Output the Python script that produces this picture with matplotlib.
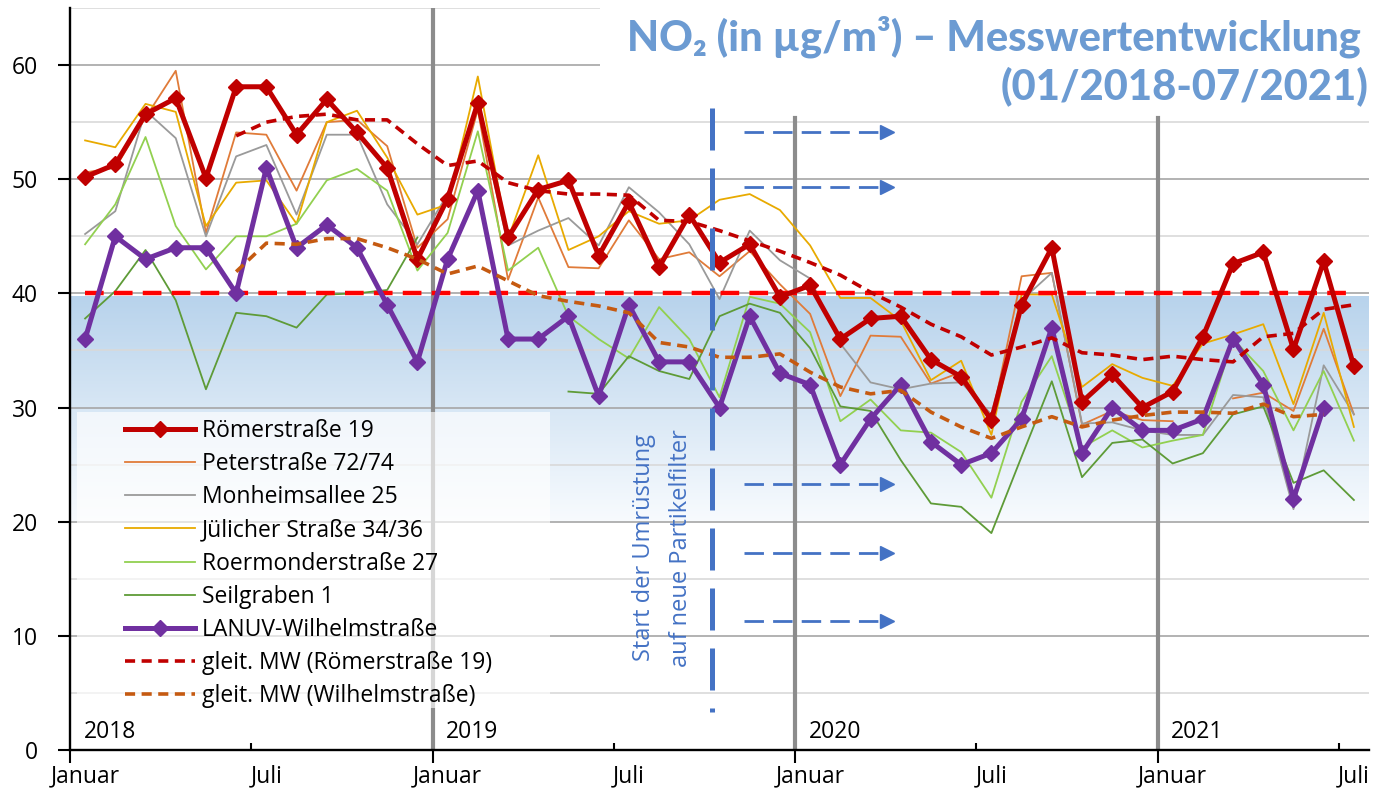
import numpy as np
import matplotlib
matplotlib.use("Agg")
import matplotlib.pyplot as plt
from matplotlib.patches import Rectangle

plt.rcParams['font.family'] = ['Open Sans', 'DejaVu Sans']

nan = np.nan
months = list(range(43))  # Jan 2018 .. Jul 2021

roemer = [50.2, 51.3, 55.7, 57.1, 50.1, 58.1, 58.1, 53.9, 57.0, 54.1, 51.0, 43.0,
          48.3, 56.7, 44.9, 49.1, 49.9, 43.3, 48.0, 42.3, 46.9, 42.7, 44.3, 39.7,
          40.7, 36.0, 37.8, 38.0, 34.2, 32.7, 28.9, 39.0, 44.0, 30.5, 32.9, 30.0,
          31.4, 36.2, 42.6, 43.6, 35.1, 42.8, 33.6]
peter = [50.6, 51.0, 55.4, 59.5, 45.3, 54.1, 53.9, 49.0, 55.0, 55.2, 52.9, 44.0,
         46.5, 56.1, 41.2, 48.4, 42.3, 42.2, 46.4, 43.0, 43.6, 41.5, 43.7, 40.8,
         38.2, 31.0, 36.3, 36.2, 32.1, 33.1, 28.9, 41.5, 41.8, 28.5, 29.7, 28.9,
         28.8, nan, 30.8, 31.3, 29.7, 36.9, 29.4]
monheim = [45.2, 47.2, 56.0, 53.6, 45.0, 52.0, 53.0, 46.9, 53.9, 53.9, 47.8, 44.3,
           48.7, 56.3, 44.2, 45.5, 46.6, 44.2, 49.3, 47.1, 44.3, 39.5, 45.5, 42.9,
           41.3, 35.6, 32.2, 31.6, 32.1, 32.2, 29.4, 39.4, 41.8, 28.6, 28.7, 28.0,
           27.6, 27.6, 31.1, 30.9, 21.1, 33.7, 29.4]
juelicher = [53.4, 52.8, 56.6, 55.9, 45.9, 49.7, 49.9, 46.1, 55.0, 56.0, 51.9, 46.9,
             47.8, 59.0, 44.8, 52.1, 43.8, 45.0, 47.2, 46.1, 46.4, 48.2, 48.7, 47.3,
             44.2, 39.6, 39.6, 37.6, 32.4, 34.1, 27.6, 39.9, 39.9, 31.8, 33.8, 32.6,
             31.9, 35.6, 36.4, 37.3, 30.3, 38.3, 28.3]
roermonder = [44.3, 47.8, 53.7, 45.9, 42.1, 45.0, 45.0, 46.1, 49.9, 50.9, 49.0, 42.0,
              45.3, 54.2, 42.0, 44.0, 38.0, 36.0, 34.3, 38.8, 36.0, 30.9, 39.7, 39.1,
              36.6, 28.8, 30.7, 28.0, 27.8, 26.1, 22.1, 30.5, 34.5, 26.5, 28.0, 26.5,
              27.1, 27.6, 36.0, 33.2, 28.0, 33.2, 27.1]
seilgraben = [37.8, 40.2, 43.8, 39.4, 31.6, 38.3, 38.0, 37.0, 39.9, 40.0, 40.3, 44.9,
              nan, nan, nan, nan, 31.4, 31.2, 34.5, 33.2, 32.5, 38.0, 39.1, 38.3,
              35.2, 30.1, 29.7, 25.4, 21.6, 21.3, 19.0, 25.7, 32.3, 23.9, 26.9, 27.2,
              25.1, 26.0, 29.4, 30.1, 23.4, 24.5, 21.9]
lanuv = [36, 45, 43, 44, 44, 40, 51, 44, 46, 44, 39, 34,
         43, 49, 36, 36, 38, 31, 39, 34, 34, 30, 38, 33,
         32, 25, 29, 32, 27, 25, 26, 29, 37, 26, 30, 28,
         28, 29, 36, 32, 22, 30, nan]
ma_roemer = [nan, nan, nan, nan, nan, 53.8, 55.0, 55.5, 55.7, 55.2, 55.2, 53.1,
             51.2, 51.6, 49.7, 49.0, 48.7, 48.7, 48.6, 46.4, 46.3, 45.5, 44.6, 43.7,
             42.7, 41.6, 40.1, 38.8, 37.3, 36.2, 34.6, 35.3, 36.1, 34.8, 34.6, 34.2,
             34.5, 34.2, 34.0, 36.2, 36.5, 38.6, 39.0]
ma_wilhelm = [nan, nan, nan, nan, nan, 41.9, 44.4, 44.3, 44.8, 44.8, 44.0, 43.0,
              41.7, 42.4, 41.1, 39.8, 39.3, 38.9, 38.3, 35.7, 35.3, 34.4, 34.4, 34.7,
              33.1, 31.8, 31.2, 31.5, 29.6, 28.3, 27.3, 28.3, 29.2, 28.3, 28.9, 29.3,
              29.6, 29.6, 29.5, 30.3, 29.2, 29.4, nan]
limit = [40] * 43

month_label_pos = [0, 6, 12, 18, 24, 30, 36, 42]
month_labels = ['Januar', 'Juli'] * 4
year_labels = ['2018', '2019', '2020', '2021']
year_label_pos = [0, 12, 24, 36]
year_bounds = [11.5, 23.5, 35.5]
filter_start = 20.75
arrow_levels = [54.1, 49.3, 23.3, 17.3, 11.3]
arrow_x = (21.8, 26.3, 26.55)

BLUE = '#4472C4'
FS = 16.5

fig = plt.figure(figsize=(13.74, 7.91), dpi=100)
ax = fig.add_axes([70 / 1374, 41 / 791, 1299 / 1374, 742 / 791])

# background band (below limit value)
top_c = np.array([184, 211, 236]) / 255
bot_c = np.array([248, 251, 254]) / 255
t = np.linspace(0, 1, 200)[:, None]
grad = (top_c[None, :] * (1 - t) + bot_c[None, :] * t)[:, None, :]
ax.imshow(grad, extent=[-0.5, 42.5, 20, 39.75], aspect='auto', zorder=0.2,
          interpolation='bilinear')

# grid
ax.set_yticks(range(0, 61, 10))
ax.set_yticks(range(5, 66, 10), minor=True)
ax.yaxis.grid(True, which='major', color='#A6A6A6', lw=1.2, zorder=0.5)
ax.yaxis.grid(True, which='minor', color='#D9D9D9', lw=1.2, zorder=0.5)
ax.set_axisbelow(True)

# year boundary lines
ax.plot([year_bounds[0]] * 2, [0, 65], color='#8C8C8C', lw=3, zorder=1)
for xb in year_bounds[1:]:
    ax.plot([xb, xb], [0, 55.4], color='#8C8C8C', lw=3, zorder=1)

# legend background box
ax.add_patch(Rectangle((-0.26, 3.7), 15.66, 25.9, facecolor='white', alpha=0.65,
                       edgecolor='none', zorder=1.5))

# series
h_roe, = ax.plot(months, roemer, color='#C00000', lw=3.6, marker='D', ms=8,
                 zorder=5, label='Römerstraße 19')
h_pet, = ax.plot(months, peter, color='#E07B39', lw=1.3, zorder=3, label='Peterstraße 72/74')
h_mon, = ax.plot(months, monheim, color='#9A9A9A', lw=1.3, zorder=3, label='Monheimsallee 25')
h_jue, = ax.plot(months, juelicher, color='#E8AA00', lw=1.3, zorder=3, label='Jülicher Straße 34/36')
h_roer, = ax.plot(months, roermonder, color='#92D050', lw=1.3, zorder=3, label='Roermonderstraße 27')
h_sei, = ax.plot(months, seilgraben, color='#5E9B37', lw=1.3, zorder=3, label='Seilgraben 1')
h_lan, = ax.plot(months, lanuv, color='#7030A0', lw=3.6, marker='D', ms=8,
                 zorder=5, label='LANUV-Wilhelmstraße')
h_mar, = ax.plot(months, ma_roemer, color='#C00000', lw=2.6, dashes=(2.8, 1.8),
                 zorder=6, label='gleit. MW (Römerstraße 19)')
h_maw, = ax.plot(months, ma_wilhelm, color='#C55A11', lw=2.6, dashes=(2.8, 1.8),
                 zorder=6, label='gleit. MW (Wilhelmstraße)')
ax.plot(months, limit, color='#FF0000', lw=3.2, dashes=(4.2, 2.3), zorder=4.5)

# filter start marker and arrows
ax.plot([filter_start, filter_start], [56.2, 3.35], color=BLUE, lw=3.6,
        dashes=(8.4, 3.6), zorder=6)
for yl in arrow_levels:
    ax.plot([arrow_x[0], arrow_x[1]], [yl, yl], color=BLUE, lw=2, dashes=(7, 3.3), zorder=6)
    ax.plot([arrow_x[2]], [yl], marker='>', ms=10, color=BLUE, zorder=6)

ax.text(18.5, 17.7, 'Start der Umrüstung', rotation=90, ha='center', va='center',
        color=BLUE, fontsize=FS + 0.5, zorder=7)
ax.text(19.72, 17.7, 'auf neue Partikelfilter', rotation=90, ha='center', va='center',
        color=BLUE, fontsize=FS + 0.5, zorder=7)

for xp, lab in zip(year_label_pos, year_labels):
    ax.text(xp - 0.05, 1.6, lab, ha='left', va='center', fontsize=FS, color='black', zorder=7)

# axes
ax.set_xlim(-0.5, 42.5)
ax.set_ylim(0, 65)
for s in ['top', 'right']:
    ax.spines[s].set_visible(False)
for s in ['left', 'bottom']:
    ax.spines[s].set_linewidth(1.7)
    ax.spines[s].set_zorder(8)
ax.set_xticks([-0.5, 11.5, 23.5, 35.5])
ax.set_xticklabels([])
ax.set_xticks([5.5, 17.5, 29.5, 41.5], minor=True)
ax.tick_params(axis='x', which='major', direction='out', length=9, width=1.5)
ax.tick_params(axis='x', which='minor', direction='in', length=5, width=1.5)
ax.tick_params(axis='y', which='major', direction='out', length=9, width=1.5,
               pad=14, labelsize=FS)
ax.tick_params(axis='y', which='minor', length=0)

sec = ax.secondary_xaxis('bottom')
sec.set_xticks(month_label_pos, month_labels)
sec.tick_params(length=0, pad=10, labelsize=FS)
sec.spines['bottom'].set_visible(False)

leg = ax.legend(handles=[h_roe, h_pet, h_mon, h_jue, h_roer, h_sei, h_lan, h_mar, h_maw],
                loc='upper left', bbox_to_anchor=((125 - 70) / 1299, (750 - 419) / 742),
                frameon=False, fontsize=FS, borderpad=0, handlelength=3.05,
                handletextpad=0.3, labelspacing=0.40, numpoints=1, borderaxespad=0)
leg.set_zorder(9)

# title block
fig.patches.append(Rectangle((600 / 1374, 1 - 105 / 791), 1, 105 / 791,
                             transform=fig.transFigure, facecolor='white',
                             edgecolor='none', zorder=1))
TC = '#6C9BD2'
fig.text(1361 / 1374, 1 - 51 / 791, 'NO₂ (in µg/m³) – Messwertentwicklung', ha='right',
         va='baseline', fontsize=30, fontweight='black', color=TC, zorder=2,
         family=['Lato', 'DejaVu Sans'])
fig.text(1368 / 1374, 1 - 99 / 791, '(01/2018-07/2021)', ha='right',
         va='baseline', fontsize=30, fontweight='black', color=TC, zorder=2,
         family=['Lato', 'DejaVu Sans'])

fig.savefig('out.png', dpi=100)
